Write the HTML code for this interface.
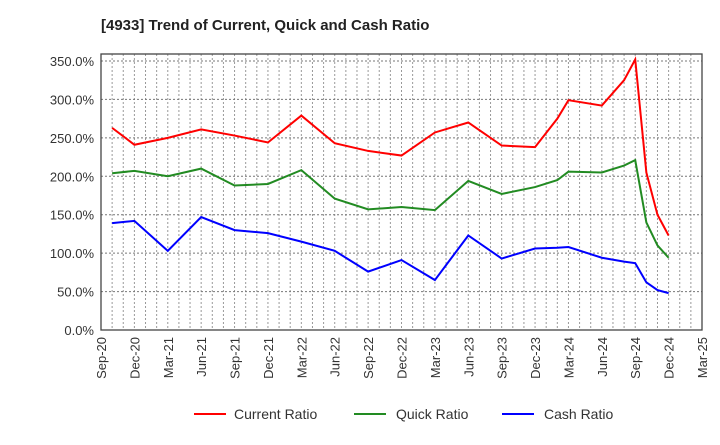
<!DOCTYPE html>
<html><head><meta charset="utf-8"><style>
body{margin:0;background:#fff;font-family:"Liberation Sans",sans-serif;}
svg text{font-family:"Liberation Sans",sans-serif;fill:#333;}
</style></head><body>
<svg id="c" width="720" height="440" xmlns="http://www.w3.org/2000/svg">
<text x="101" y="30" font-size="15" font-weight="bold" style="fill:#222">[4933]  Trend of Current, Quick and Cash Ratio</text>
<g id="grid"></g><g id="lines"></g><g id="axes"></g>
<g>
<line x1="194" y1="414" x2="226" y2="414" stroke="#ff0000" stroke-width="2"/><text x="234" y="419" font-size="14">Current Ratio</text>
<line x1="354" y1="414" x2="386" y2="414" stroke="#228b22" stroke-width="2"/><text x="396" y="419" font-size="14">Quick Ratio</text>
<line x1="502" y1="414" x2="534" y2="414" stroke="#0000ff" stroke-width="2"/><text x="544" y="419" font-size="14">Cash Ratio</text>
</g>
</svg>
<script>
const months=[1,3,6,9,12,15,18,21,24,27,30,33,36,39,41,42,45,47,48,49,50,51];
const currentRatio=[263,241,250,261,253,244,279,243,233,227,257,270,240,238,275,299,292,325,352,205,150,123];
const quickRatio=[204,207,200,210,188,190,208,171,157,160,156,194,177,186,195,206,205,214,221,140,110,94];
const cashRatio=[139,142,103,147,130,126,115,103,76,91,65,123,93,106,107,108,94,89,87,62,52,48];
const xTicks=["Sep-20","Dec-20","Mar-21","Jun-21","Sep-21","Dec-21","Mar-22","Jun-22","Sep-22","Dec-22","Mar-23","Jun-23","Sep-23","Dec-23","Mar-24","Jun-24","Sep-24","Dec-24","Mar-25"];
const yTicks=[0,50,100,150,200,250,300,350];
const L=101,R=702,T=54,B=330;
const x=m=>L+m*(R-L)/54;
const y=v=>B-v*(B-61)/350;
const NS="http://www.w3.org/2000/svg";
function mk(tag,a,p){const e=document.createElementNS(NS,tag);for(const k in a)e.setAttribute(k,a[k]);document.getElementById(p).appendChild(e);return e;}
for(let m=1;m<54;m++){const g=mk("line",{x1:x(m),x2:x(m),y1:T,y2:B,stroke:"#999","stroke-dasharray":"2,2","stroke-width":1},"grid");

}
yTicks.forEach(v=>{if(v>0){const g=mk("line",{x1:L,x2:R,y1:y(v),y2:y(v),stroke:"#777","stroke-dasharray":"2,2","stroke-width":1},"grid");

}
const t=mk("text",{x:L-7,y:y(v)+5,"font-size":13,"text-anchor":"end"},"axes");t.textContent=v.toFixed(1)+"%";

});
xTicks.forEach((s,i)=>{const xx=x(i*3);const t=mk("text",{x:0,y:0,"font-size":13,"text-anchor":"end",transform:`translate(${xx+5},${B+7}) rotate(-90)`},"axes");t.textContent=s;

});
const fr=mk("rect",{x:L,y:T,width:R-L,height:B-T,fill:"none",stroke:"#444","stroke-width":1.3},"axes");


[[currentRatio,"#ff0000","current-ratio-line"],[quickRatio,"#228b22","quick-ratio-line"],[cashRatio,"#0000ff","cash-ratio-line"]].forEach(([d,c,n])=>{
const p=mk("polyline",{points:d.map((v,i)=>x(months[i])+","+y(v)).join(" "),fill:"none",stroke:c,"stroke-width":2},"lines");

});
</script>
</body></html>
